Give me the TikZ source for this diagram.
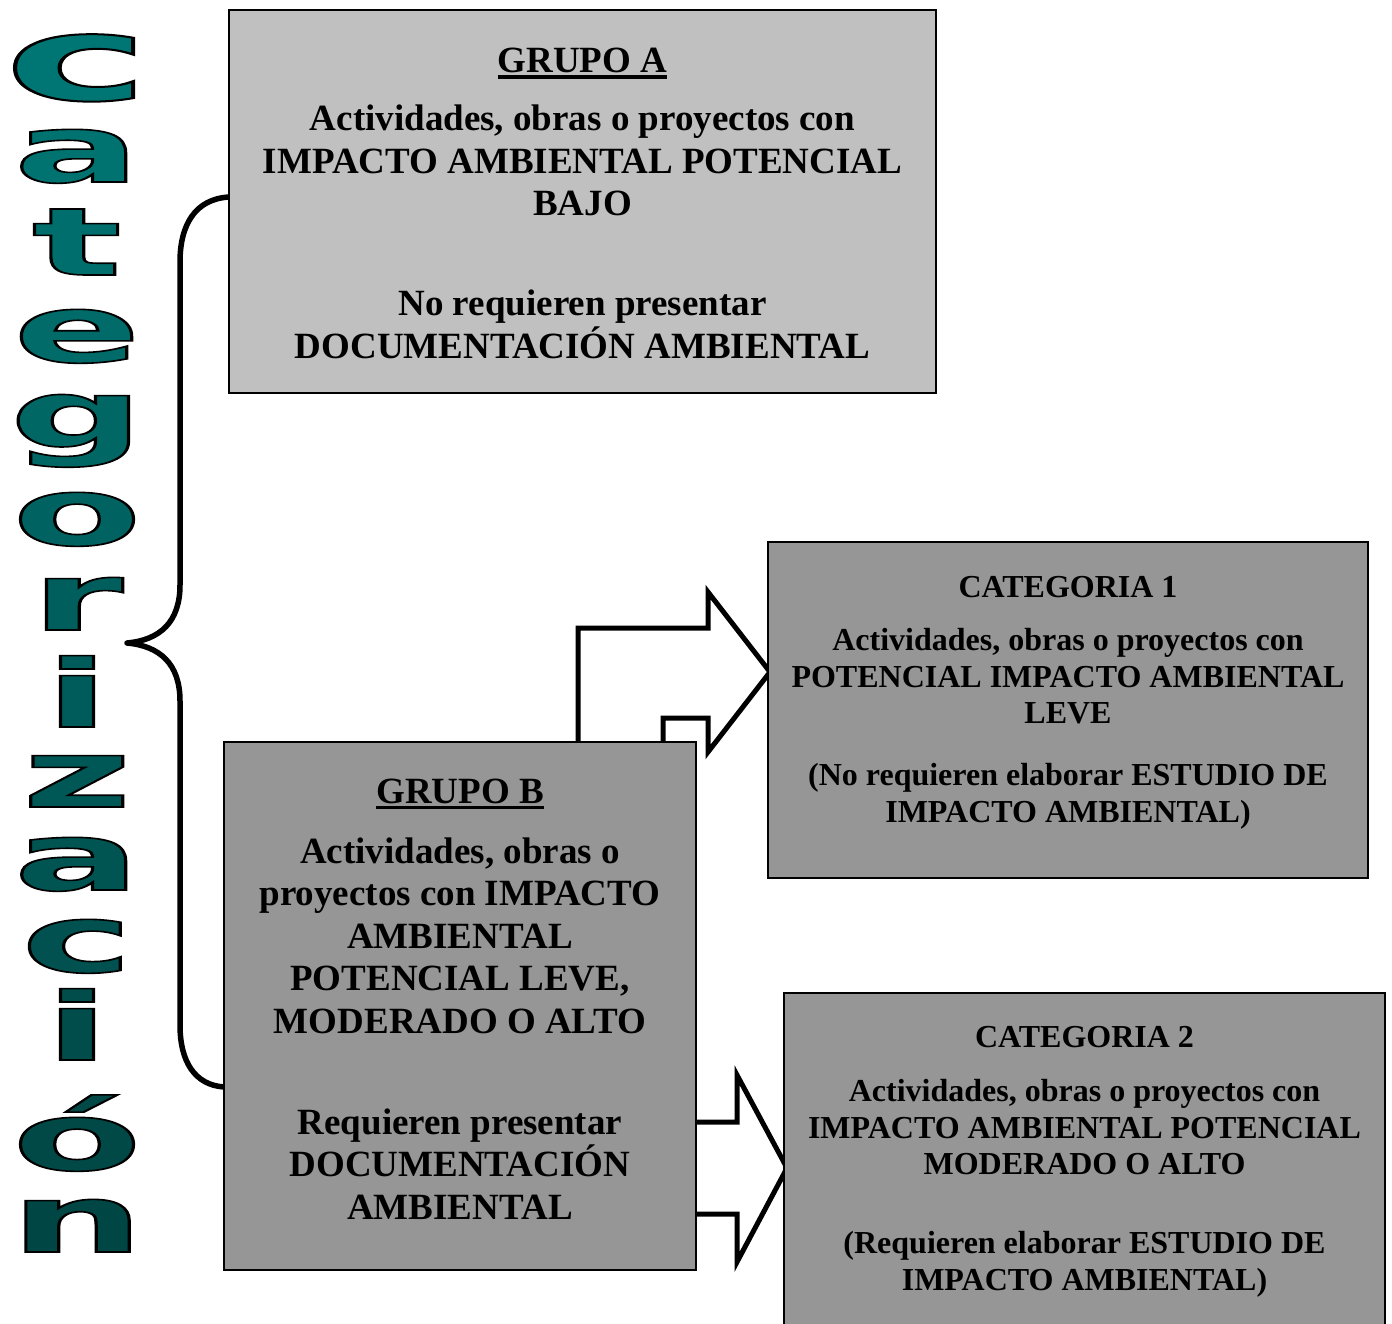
\documentclass[tikz,border=0pt]{standalone}
\usepackage{fontspec}
\setmainfont{Liberation Serif}
\newfontfamily\artfont{DejaVu Sans}
\usepackage{tikz}
\usetikzlibrary{calc}
\definecolor{grisclaro}{RGB}{192,192,192}
\definecolor{grisoscuro}{RGB}{150,150,150}
\definecolor{tealarriba}{RGB}{0,118,116}
\definecolor{tealabajo}{RGB}{0,70,68}
\newcommand{\subrayado}[1]{\leavevmode\vtop{\hbox{#1}\kern2.5pt\hrule height 3.5pt}}
\newcommand{\contorno}[1]{\special{pdf:literal direct 0 0 0 RG 1.6 w 2 Tr}#1\special{pdf:literal direct 0 Tr}}

\begin{document}
\begin{tikzpicture}[x=1pt,y=-1pt,
    caja/.style={draw=black,line width=2pt,rectangle,inner sep=0pt},
    texto/.style={anchor=base,align=center,inner sep=0pt,font=\bfseries\fontsize{37}{42.5}\selectfont},
    textocat/.style={anchor=base,align=center,inner sep=0pt,font=\bfseries\fontsize{32}{36.6}\selectfont},
    flecha/.style={draw=black,fill=white,line width=5pt,line join=miter}]
    \useasboundingbox (0,0) rectangle (1392,1324);
    % letras de la izquierda
    \foreach \ch/\yb/\sx/\sy [count=\k] in {c/100/2.6/1.25,a/182/2.0/1,t/275/2.0/1,e/362/2.0/1,g/447/2.0/1,
        o/545/2.0/1,r/630/2.0/1,i/727/2.0/1,z/807/2.0/1,a/890/2.0/1,c/972/2.0/1,i/1060/2.0/1,ó/1170/2.0/1,n/1252/2.0/1}{
        \pgfmathtruncatemacro{\p}{100-100*(\k-1)/13}
        \node[anchor=base,inner sep=0pt,text=tealarriba!\p!tealabajo] (l\k) at (77,\yb)
            {\scalebox{\sx}[\sy]{\artfont\bfseries\fontsize{94}{94}\selectfont\contorno{\ch}}};
    }
    % llave
    \draw[line width=5.5pt,line cap=round,line join=round] (229,197) .. controls (195,199) and (180,225) .. (180,262)
        -- (180,585) .. controls (180,622) and (160,640) .. (127,643)
        .. controls (160,646) and (180,664) .. (180,701)
        -- (180,1025) .. controls (180,1062) and (195,1085) .. (224,1087);
    % flechas
    \draw[flecha] (578,742) -- (578,628) -- (708,628) -- (708,592) -- (770,672) -- (708,752)
        -- (708,718) -- (663,718) -- (663,742);
    \draw[flecha] (696,1122) -- (737,1122) -- (737,1075) -- (787,1168) -- (737,1262)
        -- (737,1214) -- (696,1214);
    % cajas
    \node[caja,fill=grisclaro,minimum width=707pt,minimum height=383pt] (grupoA) at (582.5,201.5) {};
    \node[caja,fill=grisoscuro,minimum width=472pt,minimum height=528pt] (grupoB) at (460,1006) {};
    \node[caja,fill=grisoscuro,minimum width=600pt,minimum height=336pt] (cat1) at (1068,710) {};
    \node[caja,fill=grisoscuro,minimum width=601pt,minimum height=360pt] (cat2) at (1084.5,1173) {};
    % textos (base = ultima linea)
    \node[texto] (txtA) at (582.5,358) {\subrayado{GRUPO A}\\[15.5pt]
        Actividades, obras o proyectos con\\IMPACTO AMBIENTAL POTENCIAL\\BAJO\\[57.5pt]
        No requieren presentar\\DOCUMENTACIÓN AMBIENTAL};
    \node[texto] (txtB) at (460,1219) {\subrayado{GRUPO B}\\[17.5pt]
        Actividades, obras o\\proyectos con IMPACTO\\AMBIENTAL\\POTENCIAL LEVE,\\MODERADO O ALTO\\[58.5pt]
        Requieren presentar\\DOCUMENTACIÓN\\AMBIENTAL};
    \node[textocat] (txt1) at (1068,822.5) {CATEGORIA 1\\[16.4pt]
        Actividades, obras o proyectos con\\POTENCIAL IMPACTO AMBIENTAL\\LEVE\\[25.4pt]
        (No requieren elaborar ESTUDIO DE\\IMPACTO AMBIENTAL)};
    \node[textocat] (txt2) at (1084.5,1290.5) {CATEGORIA 2\\[17.4pt]
        Actividades, obras o proyectos con\\IMPACTO AMBIENTAL POTENCIAL\\MODERADO O ALTO\\[42.4pt]
        (Requieren elaborar ESTUDIO DE\\IMPACTO AMBIENTAL)};
\end{tikzpicture}
\end{document}
